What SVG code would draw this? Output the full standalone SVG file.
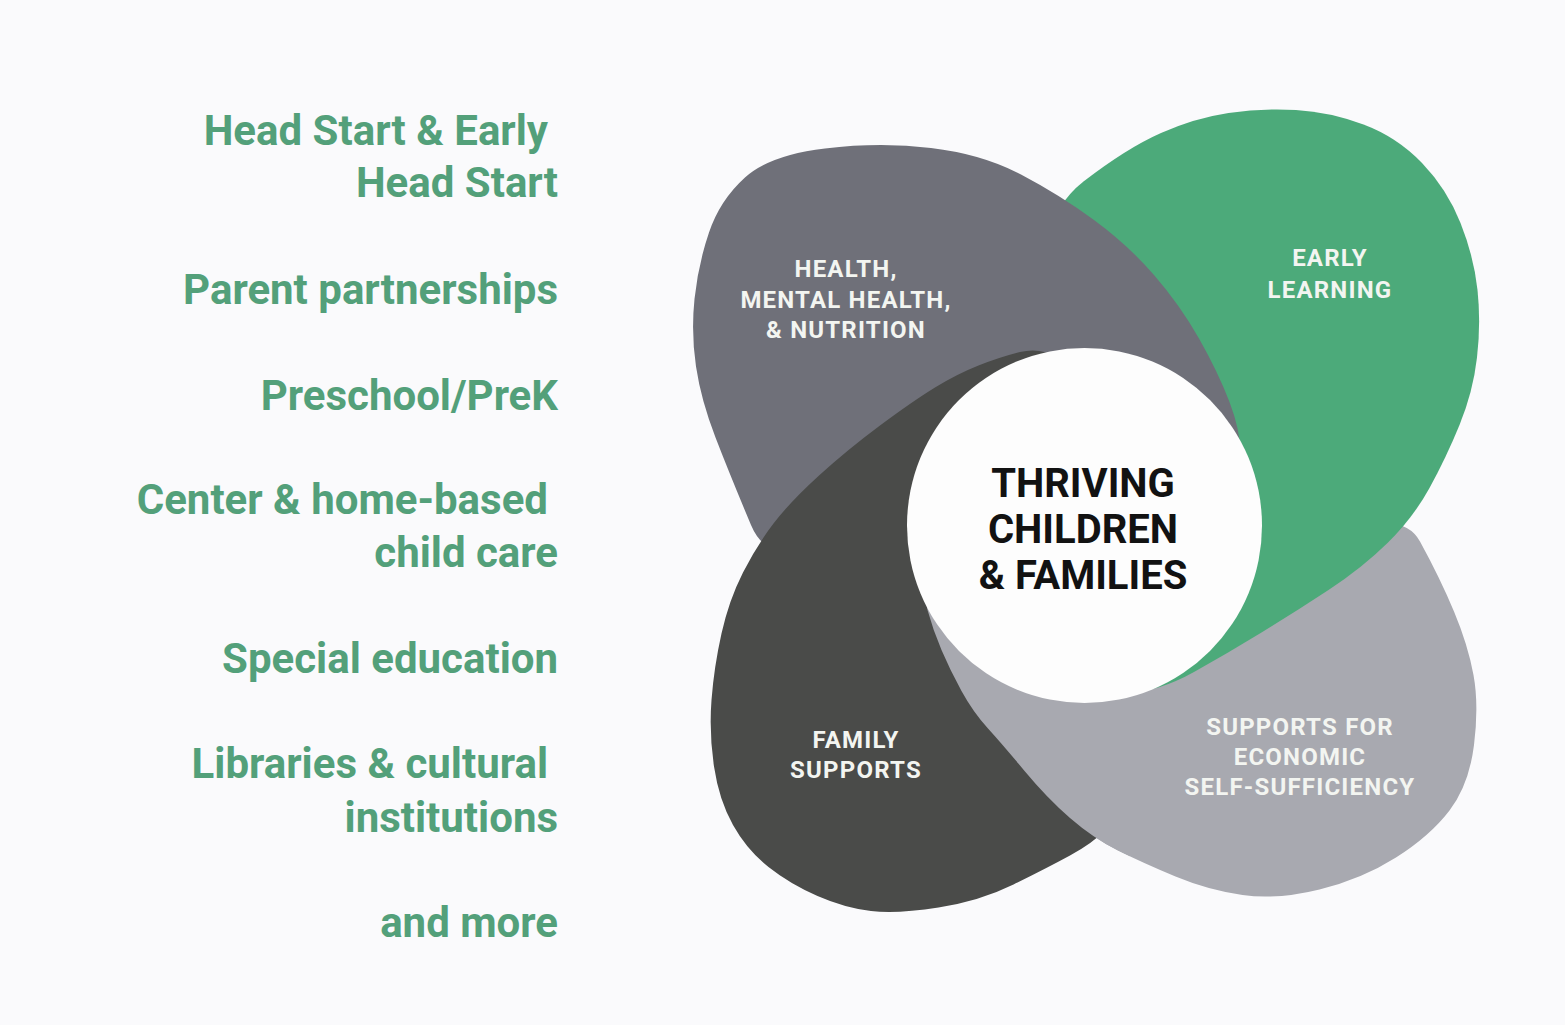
<svg xmlns="http://www.w3.org/2000/svg" width="1565" height="1025" viewBox="0 0 1565 1025">
<style>
.list{font-family:Roboto,"Liberation Sans",sans-serif;font-weight:700;font-size:42px;fill:#53a07a;text-anchor:end}
.lab{font-family:Roboto,"Liberation Sans",sans-serif;font-weight:700;font-size:24px;letter-spacing:1.2px;fill:#f3f5f1;text-anchor:middle}
.core{font-family:Roboto,"Liberation Sans",sans-serif;font-weight:700;font-size:40px;fill:#121212;text-anchor:middle}
</style>
<defs>
<clipPath id="lowClip"><rect x="860" y="560" width="270" height="400"/></clipPath>
<path id="pL" d="M1420,541.5 Q1440,578 1454,611.5 Q1468,645 1473.5,675 Q1479,705 1474,745 Q1469,785 1449.5,810.5 Q1430,836 1396,857.5 Q1362,879 1319.5,889.5 Q1277,900 1242.5,895 Q1208,890 1175.5,876.5 Q1143,863 1118,850.5 Q1093,838 1070,818 Q1047,798 1025,771.5 Q1003,745 988,728.5 Q973,712 961.5,691 Q950,670 941.5,650 Q933,630 927.5,610 Q922,590 961,555 Q1000,520 1125,550 Q1250,580 1325,542.5 Q1400,505 1420,541.5 Z"/>
</defs>
<rect width="1565" height="1025" fill="#fafafc"/>

<g id="list">
<text class="list" x="548" y="145">Head Start &amp; Early</text>
<text class="list" x="558" y="197">Head Start</text>
<text class="list" x="558" y="304">Parent partnerships</text>
<text class="list" x="558" y="410">Preschool/PreK</text>
<text class="list" x="548" y="514">Center &amp; home-based</text>
<text class="list" x="558" y="567">child care</text>
<text class="list" x="558" y="673">Special education</text>
<text class="list" x="548" y="778">Libraries &amp; cultural</text>
<text class="list" x="558" y="832">institutions</text>
<text class="list" x="558" y="937">and more</text>
</g>

<g id="economic">
<use href="#pL" fill="#a8a9b0"/>
</g>

<g id="early-learning">
<path fill="#4caa7a" d="M1083.5,181.5 Q1127,148 1161,133 Q1195,118 1228.5,113 Q1262,108 1296,110 Q1330,112 1363.5,124.5 Q1397,137 1422,163 Q1447,189 1460.5,223 Q1474,257 1477.5,290 Q1481,323 1477,357.5 Q1473,392 1459.5,425 Q1446,458 1429.5,488 Q1413,518 1387.5,543 Q1362,568 1328.5,590 Q1295,612 1261.5,632.5 Q1228,653 1194,672 Q1160,691 1125,694 Q1090,697 1045,558.5 Q1000,420 1020,317.5 Q1040,215 1083.5,181.5 Z"/>
</g>

<g id="health">
<path fill="#6f7079" d="M751,525 Q730,475 715.5,437.5 Q701,400 696,366.5 Q691,333 694.5,299 Q698,265 709,232.5 Q720,200 745,177.5 Q770,155 825,148.5 Q880,142 931,148 Q982,154 1021,174.5 Q1060,195 1094,220 Q1128,245 1154,275 Q1180,305 1199,338.5 Q1218,372 1229.5,402 Q1241,432 1240.5,456 Q1240,480 1170,490 Q1100,500 1000,490 Q900,480 836,527.5 Q772,575 751,525 Z"/>
</g>

<g id="family">
<path fill="#4a4b49" d="M773.5,523.5 Q790,502 818.5,476 Q847,450 880,425.5 Q913,401 935,387.5 Q957,374 978.5,365.5 Q1000,357 1020,352 Q1040,347 1057.5,357.5 Q1075,368 1037.5,484 Q1000,600 1025,650 Q1050,700 1085,757.5 Q1120,815 1106.5,829 Q1093,843 1070,855.5 Q1047,868 1013.5,884.5 Q980,901 938.5,907.5 Q897,914 871,911 Q845,908 817.5,896 Q790,884 768.5,867 Q747,850 733,825 Q719,800 714,766.5 Q709,733 711.5,700 Q714,667 721.5,633.5 Q729,600 743,572.5 Q757,545 773.5,523.5 Z"/>
</g>

<g id="economic-front" clip-path="url(#lowClip)">
<use href="#pL" fill="#a8a9b0"/>
</g>

<g id="center">
<circle cx="1084.5" cy="525.5" r="177.5" fill="#fdfdfd"/>
<text class="core" x="1083" y="497">THRIVING</text>
<text class="core" x="1083" y="543">CHILDREN</text>
<text class="core" x="1083" y="589">&amp; FAMILIES</text>
</g>

<g id="labels">
<text class="lab" x="846" y="277">HEALTH,</text>
<text class="lab" x="846" y="308">MENTAL HEALTH,</text>
<text class="lab" x="846" y="338">&amp; NUTRITION</text>
<text class="lab" x="1330" y="266">EARLY</text>
<text class="lab" x="1330" y="298">LEARNING</text>
<text class="lab" x="856" y="748">FAMILY</text>
<text class="lab" x="856" y="778">SUPPORTS</text>
<text class="lab" x="1300" y="735">SUPPORTS FOR</text>
<text class="lab" x="1300" y="765">ECONOMIC</text>
<text class="lab" x="1300" y="795">SELF-SUFFICIENCY</text>
</g>
</svg>
